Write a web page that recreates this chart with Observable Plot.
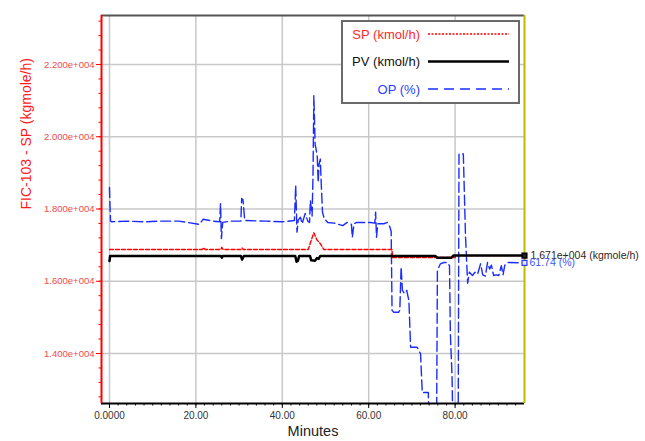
<!DOCTYPE html>
<html>
<head>
<meta charset="utf-8">
<script src="https://cdn.jsdelivr.net/npm/d3@7"></script>
<script src="https://cdn.jsdelivr.net/npm/@observablehq/plot@0.6"></script>
<style>
  html, body { margin: 0; padding: 0; background: #fff; }
  #chart { width: 645px; height: 441px; }
</style>
</head>
<body>
<div id="chart"></div>
<script>
// Axis set-up (minutes on x, kgmole/h on y; OP shares the plot on its own 40–100 % range)
const xDomain = [-1.85, 96.06];
const yDomain = [12616, 23356];
const opRange = [40, 100];
const xTickValues = [0, 20, 40, 60, 80];
const xTickLabels = ["0.0000", "20.00", "40.00", "60.00", "80.00"];
const yTickValues = [14000, 16000, 18000, 20000, 22000];

// SP (kmol/h) — set point
const spTime  = [0, 21.5, 21.8, 22.1, 25.8, 26.0, 26.3, 30.5, 30.7, 31.0, 46.0, 46.6, 47.3, 48.0, 48.8, 49.6, 65.4, 65.5, 80.0, 80.1, 96.06];
const spValue = [16880, 16880, 16930, 16880, 16880, 16940, 16880, 16880, 16920, 16880, 16880, 17100, 17340, 17150, 17040, 16880, 16880, 16656, 16656, 16710, 16710];

// PV (kmol/h) — process value
const pvTime  = [0, 0.15, 0.4, 25.8, 26.0, 26.2, 30.4, 30.7, 31.1, 43.0, 43.3, 43.6, 43.9, 46.4, 46.7, 47.6, 48.0, 48.4, 48.8, 75.4, 75.9, 79.1, 79.6, 96.06];
const pvValue = [16560, 16700, 16700, 16700, 16650, 16700, 16700, 16600, 16700, 16700, 16540, 16560, 16700, 16700, 16580, 16570, 16640, 16620, 16700, 16700, 16650, 16650, 16710, 16710];

// OP (%) — controller output
const opTime = [0, 0.1, 0.25, 0.5, 4, 8, 12, 16, 18, 20.8, 21.7, 24, 25.5, 25.7, 25.9, 26.2, 28, 30.4, 30.6, 30.9, 31.3, 36, 40,
  42.8, 43.1, 43.4, 43.7, 44.2, 44.6, 45.3, 45.9, 46.3, 46.5, 46.9, 47.1, 47.3, 47.6, 47.8, 48.1, 48.3, 48.5, 48.8, 49.0, 49.3, 49.7,
  50.5, 52, 54, 55, 56.0, 56.2, 56.6, 57.2, 60.4, 61.4, 61.6, 61.8, 62.1, 63.5, 64.3, 64.9, 65.2, 65.4, 65.8, 66.9, 67.2, 67.5, 67.8,
  68.3, 68.8, 69.3, 69.7, 71.2, 72.0, 72.2, 72.4, 73.8, 74.0, 75.7, 75.9, 76.6, 77.4, 78.2, 78.7, 78.9, 79.3, 79.5, 80.7, 80.9, 81.9,
  82.4, 82.9, 83.3, 84.0, 84.6, 85.2, 85.9, 86.4, 87.0, 87.5, 88.0, 88.4, 88.9, 89.5, 90.1, 90.7, 91.1, 91.5, 92.2, 96.06];
const opValue = [73.4, 70.8, 68.2, 68.1, 68.2, 68.1, 68.2, 68.2, 68.0, 67.7, 68.5, 68.2, 68.1, 70.9, 65.5, 68.0, 68.2, 68.2, 71.7, 71.5, 68.3, 68.2, 68.1,
  68.3, 73.7, 66.5, 68.4, 68.8, 67.8, 69.4, 68.2, 68.0, 71.4, 69.0, 75.0, 87.6, 80.0, 79.4, 78.1, 74.2, 77.0, 77.8, 74.2, 69.6, 68.6,
  68.0, 67.9, 67.5, 68.0, 67.7, 65.7, 67.8, 68.0, 68.0, 67.9, 69.6, 65.7, 67.8, 67.8, 68.0, 67.3, 66.6, 54.4, 54.1, 54.1, 54.4, 61.1, 57.5,
  57.0, 57.5, 55.9, 48.7, 48.7, 47.7, 44.6, 41.7, 41.7, 35, 35, 60.6, 61.6, 61.8, 61.8, 61.3, 50.8, 44.0, 35, 35, 78.6, 78.6,
  66.0, 58.6, 60.3, 59.8, 60.3, 60.0, 61.6, 59.9, 59.7, 61.8, 60.8, 61.4, 59.8, 59.9, 59.8, 61.3, 59.9, 61.4, 61.8, 61.74];

// Scientific notation with a three-digit exponent, e.g. 2.200e+004
const sci = v => {
  const e = Math.floor(Math.log10(Math.abs(v)));
  const m = v / Math.pow(10, e);
  return m.toFixed(3) + "e" + (e < 0 ? "-" : "+") + String(Math.abs(e)).padStart(3, "0");
};

const xLabelMap = new Map(xTickValues.map((t, i) => [t, xTickLabels[i]]));
const minorX = d3.range(0, 95, 2);
const minorY = d3.range(12800, 23357, 400);

// OP in % is drawn against the kgmole/h axis through this linear map
const opToY = d3.scaleLinear().domain(opRange).range(yDomain);

const sp = spTime.map((t, i) => ({t, v: spValue[i]}));
const pv = pvTime.map((t, i) => ({t, v: pvValue[i]}));
const op = opTime.map((t, i) => ({t, op: opValue[i], v: opToY(opValue[i])}));
const pvLast = pv.slice(-1);
const opLast = op.slice(-1);

const font = "'Liberation Sans', Arial, sans-serif";

const chart = Plot.plot({
  width: 645,
  height: 441,
  marginLeft: 101,
  marginRight: 121,
  marginTop: 15,
  marginBottom: 38,
  style: {fontFamily: font, background: "#fff", overflow: "visible"},
  x: {domain: xDomain},
  y: {domain: yDomain},
  marks: [
    Plot.ruleX(xTickValues, {stroke: "#c8c8c8", strokeWidth: 1.5}),
    Plot.ruleY(yTickValues, {stroke: "#c8c8c8", strokeWidth: 1.5}),
    Plot.axisX(minorX, {tickSize: 2.5, tickFormat: () => "", stroke: "#000", label: null}),
    Plot.axisX(xTickValues, {tickSize: 5, tickPadding: 3, tickFormat: d => xLabelMap.get(d), stroke: "#000", fill: "#333", fontSize: 10, label: null}),
    Plot.axisY(minorY, {tickSize: 2.5, tickFormat: () => "", stroke: "red", label: null}),
    Plot.axisY(yTickValues, {tickSize: 5, tickPadding: 2, tickFormat: sci, stroke: "red", fill: "#f04a4a", fontSize: 9.5, label: null}),
    Plot.line(op, {x: "t", y: "v", stroke: "#1a2cff", strokeWidth: 1.4, strokeDasharray: "10,4", clip: true}),
    Plot.line(sp, {x: "t", y: "v", stroke: "#ff0000", strokeWidth: 1.4, strokeDasharray: "4,2", clip: true}),
    Plot.line(pv, {x: "t", y: "v", stroke: "#000", strokeWidth: 2.5, clip: true}),
    // plot-area border: red value axis, black time axis, grey top, olive right edge
    Plot.ruleY([yDomain[1]], {stroke: "#555", strokeWidth: 2}),
    Plot.ruleY([yDomain[0]], {stroke: "#000", strokeWidth: 2}),
    Plot.ruleX([xDomain[0]], {stroke: "#ff0000", strokeWidth: 2}),
    Plot.ruleX([xDomain[1]], {stroke: "#c2b800", strokeWidth: 2}),
    // current values at the right edge
    Plot.dot(pvLast, {x: "t", y: "v", symbol: "square", r: 2.6, fill: "#222", stroke: "#000"}),
    Plot.dot(opLast, {x: "t", y: "v", symbol: "square", r: 2.8, fill: "#dfe4ff", stroke: "#2a3cff", strokeWidth: 1.2}),
    Plot.text(pvLast, {x: "t", y: "v", text: d => sci(d.v) + " (kgmole/h)", dx: 6, textAnchor: "start", fill: "#33241a", fontSize: 10.5}),
    Plot.text(opLast, {x: "t", y: "v", text: d => d.op.toFixed(2) + " (%)", dx: 5, textAnchor: "start", fill: "#3a55ff", fontSize: 10.5}),
    // axis titles
    Plot.text(["FIC-103 - SP (kgmole/h)"], {text: d => d, frameAnchor: "left", rotate: -90, dx: -75, fill: "#ff1a1a", fontSize: 14}),
    Plot.text(["Minutes"], {text: d => d, frameAnchor: "bottom", dy: 32, fill: "#222", fontSize: 14.5})
  ]
});

// Series legend box in the upper right of the plot area
const legendItems = [
  {label: "SP (kmol/h)", color: "#ff0000", textColor: "#ff2a2a", dash: "2,1.5", width: 1.3},
  {label: "PV (kmol/h)", color: "#000", textColor: "#111", dash: null, width: 2.5},
  {label: "OP (%)", color: "#1a2cff", textColor: "#2a3cff", dash: "10,6", width: 1.6}
];
const svg = d3.select(chart);
const lg = svg.append("g").attr("font-family", font);
lg.append("rect")
  .attr("x", 342).attr("y", 21).attr("width", 177).attr("height", 82)
  .attr("fill", "#fff").attr("stroke", "#6a6a6a").attr("stroke-width", 2);
legendItems.forEach((d, i) => {
  const y = 34 + i * 27.5;
  lg.append("text")
    .attr("x", 420).attr("y", y).attr("dy", "0.35em")
    .attr("text-anchor", "end").attr("font-size", 13).attr("fill", d.textColor)
    .text(d.label);
  const ln = lg.append("line")
    .attr("x1", 428).attr("x2", 509).attr("y1", y).attr("y2", y)
    .attr("stroke", d.color).attr("stroke-width", d.width);
  if (d.dash) ln.attr("stroke-dasharray", d.dash);
});

document.getElementById("chart").appendChild(chart);
</script>
</body>
</html>
